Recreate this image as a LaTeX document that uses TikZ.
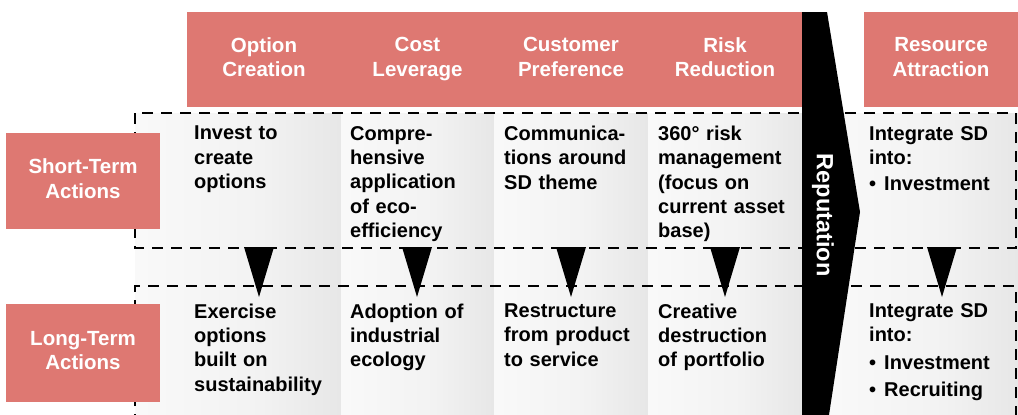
\documentclass[tikz,border=0pt]{standalone}
\usepackage{fontspec}
\setmainfont{Liberation Sans}
\definecolor{salmon}{HTML}{DE7872}
\newcommand{\cellfont}{\fontsize{20}{24.3}\selectfont\bfseries}
\newcommand{\headfont}{\fontsize{20.5}{24.5}\selectfont\bfseries}
\pgfdeclarehorizontalshading{bandshade}{100bp}{color(0bp)=(white); color(55bp)=(black!5); color(100bp)=(black!15)}

\begin{document}
\begin{tikzpicture}[x=1pt,y=-1pt,
  head/.style={fill=salmon,text=white,font=\headfont,align=center,inner sep=0pt,
    minimum width=154pt,minimum height=95pt,
    execute at begin node={\rule{0pt}{23.5pt}},
    execute at end node={\rule[-5pt]{0pt}{5pt}}},
  rowlab/.style={head,minimum height=96pt},
  cell/.style={anchor=north west,inner sep=0pt,text width=150pt,align=left,font=\cellfont},
  band/.style={shading=bandshade},
  dash line/.style={line width=2.4pt,dash pattern=on 11pt off 8pt}]
\useasboundingbox (0,0) rectangle (1018,415);
% shaded columns
\shade[band] (135,113) rectangle (341,415);
\shade[band] (341,113) rectangle (494,415);
\shade[band] (494,113) rectangle (648,415);
\shade[band] (648,113) rectangle (802,415);
\shade[band] (830,113) rectangle (1018,415);
% dashed frames of the two rows
\draw[dash line] (135,113) rectangle (1016,248);
\draw[dash line] (135,425) -- (135,286) -- (1016,286) -- (1016,425);
% column heads
\node[head] (hOpt)  at (264,59.5) {Option\\Creation};
\node[head] (hCost) at (417.5,59.5) {Cost\\Leverage};
\node[head] (hCust) at (571,59.5) {Customer\\Preference};
\node[head] (hRisk) at (725,59.5) {Risk\\Reduction};
\node[head] (hRes)  at (941,59.5) {Resource\\Attraction};
% row heads
\node[rowlab] (rShort) at (83,181) {Short-Term\\Actions};
\node[rowlab,minimum height=98pt] (rLong) at (83,353) {Long-Term\\Actions};
% short-term actions
\node[cell] (sOpt)  at (194,126) {Invest to\\create\\options};
\node[cell] (sCost) at (350,126) {Compre-\\hensive\\application\\of eco-\\efficiency};
\node[cell] (sCust) at (504,126) {Communica-\\tions around\\SD theme};
\node[cell] (sRisk) at (658,126) {360° risk\\management\\(focus on\\current asset\\base)};
\node[cell] (sRes)  at (869,126) {Integrate SD\\into:\\[2pt]\textbullet\hspace{8pt}Investment};
% long-term actions
\node[cell] (lOpt)  at (194,303.5) {Exercise\\options\\built on\\sustainability};
\node[cell] (lCost) at (350,303.5) {Adoption of\\industrial\\ecology};
\node[cell] (lCust) at (504,303.5) {Restructure\\from product\\to service};
\node[cell] (lRisk) at (658,303.5) {Creative\\destruction\\of portfolio};
\node[cell] (lRes)  at (869,303.5) {Integrate SD\\into:\\[3pt]\textbullet\hspace{8pt}Investment\\[3pt]\textbullet\hspace{8pt}Recruiting};
% short to long
\foreach \cx in {259,417,571,725,942}
  \fill (\cx-15,247) -- (\cx+15,247) -- (\cx,297) -- cycle;
% reputation
\fill (802,12) -- (827,12) -- (860,212) -- (829,415) -- (802,415) -- cycle;
\node[text=white,rotate=-90,font=\fontsize{23.5}{24}\selectfont\bfseries] (rep) at (823,215) {Reputation};
\end{tikzpicture}
\end{document}
